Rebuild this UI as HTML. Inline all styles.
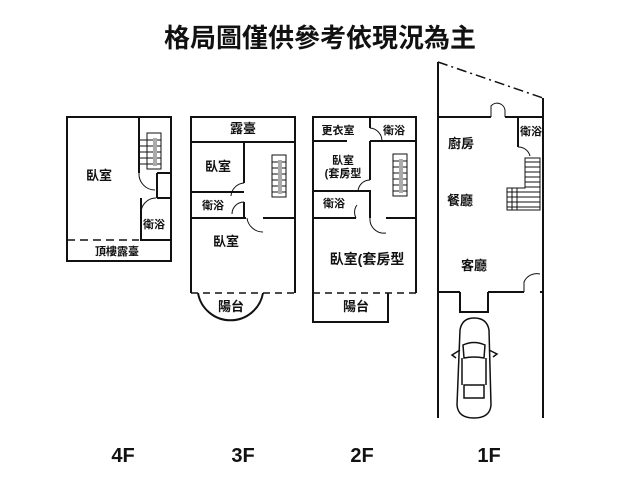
<!DOCTYPE html>
<html><head><meta charset="utf-8"><style>
body{margin:0;background:#fff;width:640px;height:480px;overflow:hidden}
svg{display:block}
text{font-family:"Liberation Sans","Noto Sans CJK TC",sans-serif;font-weight:bold;fill:#111}
</style></head><body>
<svg width="640" height="480" viewBox="0 0 640 480">
<text x="320" y="47" font-size="26" text-anchor="middle">格局圖僅供參考依現況為主</text>
<g stroke="#111" stroke-width="2" fill="none">
<!-- 4F -->
<path d="M67 240 V117 H171 V261 H67 V240"/>
<path d="M67 240 H139" stroke-dasharray="8,5" stroke-width="1.5"/>
<path d="M139 117 V173 M157 173 H171 M141 198 V240 H171 M157 198 H171 M157 173 V198"/>
<path d="M139 173 A 16 16 0 0 0 155 190 M141 213 A15 15 0 0 1 156 198" stroke-width="1"/>
<g stroke-width="1"><path d="M147 133H161V169H147Z M139 140H161M139 146H161M139 152H161M139 158H161M139 164H161"/></g>
<rect x="153" y="138" width="4" height="28" fill="#aaa" stroke="none"/>
<!-- 3F -->
<path d="M191 293 V117 H295 V293"/>
<path d="M191 293 H295" stroke-dasharray="7,5" stroke-width="1.5"/>
<path d="M191 142 H295 M244 142 V183 M191 192 H244 M244 202 V218 M191 218 H246 M263 218 H295"/>
<path d="M244 183 A14 14 0 0 0 231 196 M244 202 A12 12 0 0 0 232 214 M247 218 A16 16 0 0 0 263 232" stroke-width="1"/>
<path d="M198 293 A33 33 0 0 0 263 293"/>
<g stroke-width="1"><path d="M272 155H286V197H272Z M272 162H286M272 168H286M272 174H286M272 180H286M272 186H286M272 192H286"/></g>
<rect x="278" y="160" width="4" height="34" fill="#aaa" stroke="none"/>
<!-- 2F -->
<path d="M313 293 V117 H416 V293"/>
<path d="M313 293 H416" stroke-dasharray="7,5" stroke-width="1.5"/>
<path d="M313 293 V322 H388 V293"/>
<path d="M370 117 V128 M313 141 H347 M370 141 H416 M370 141 V180 M313 191 H370 V218 M313 218 H356 M386 218 H416"/>
<path d="M370 128 A13 13 0 0 1 382 141 M370 180 A12 12 0 0 0 358 192 M356 218 A12 12 0 0 1 357 205 M370 218 A14 14 0 0 0 386 233" stroke-width="1"/>
<g stroke-width="1"><path d="M393 154H407V196H393Z M393 161H407M393 167H407M393 173H407M393 179H407M393 185H407M393 191H407"/></g>
<rect x="399" y="159" width="4" height="34" fill="#aaa" stroke="none"/>
<!-- 1F -->
<path d="M438 62 V418 M543 98 V418"/>
<path d="M438 62 L543 98" stroke-dasharray="10,4,2,4" stroke-width="1.5"/>
<path d="M438 117 H491 M505 117 H543 M518 117 V147 M438 292 H460 M488 292 H524 M543 292 H540"/>
<path d="M491 117 V106 A8 8 0 0 1 505 110 V117 M518 147 A12 12 0 0 1 530 156 M524 292 V282 A14 14 0 0 1 540 274" stroke-width="1"/>
<path d="M460 292 V312 H488 V292"/>
<g stroke-width="1">
<path d="M525 158 H540 V210 H507 V188 H525 Z"/>
<path d="M525 162H540M525 167H540M525 172H540M525 177H540M525 182H540M525 187H540M507 192H540M507 197H540M507 202H540M507 207H540M512 188V210M517 188V210"/>
</g>
<!-- car -->
<g stroke-width="1.5">
<path d="M460 330 Q462 318 474 318 Q487 318 489 330 L491 405 Q490 418 474 418 Q458 418 457 405 Z"/>
<path d="M463 345 Q474 340 485 345 L484 358 Q474 356 464 358 Z"/>
<path d="M464 385 H484 V398 H464 Z M462 358 V385 M486 358 V385"/>
<path d="M460 350 L452 355 L456 358 M489 350 L497 354 L493 357"/>
</g>
</g>
<g font-size="12" text-anchor="middle">
<text x="99" y="180" font-size="13">臥室</text>
<text x="154" y="228" font-size="11">衛浴</text>
<text x="117" y="255" font-size="11">頂樓露臺</text>
<text x="243" y="133" font-size="13">露臺</text>
<text x="218" y="171" font-size="13">臥室</text>
<text x="213" y="209" font-size="11">衛浴</text>
<text x="226" y="246" font-size="13">臥室</text>
<text x="231" y="311" font-size="13">陽台</text>
<text x="338" y="134" font-size="11">更衣室</text>
<text x="394" y="134" font-size="11">衛浴</text>
<text x="343" y="164" font-size="11">臥室</text>
<text x="343" y="177" font-size="11">(套房型</text>
<text x="334" y="207" font-size="11">衛浴</text>
<text x="367" y="264" font-size="14">臥室(套房型</text>
<text x="356" y="311" font-size="13">陽台</text>
<text x="461" y="148" font-size="13">廚房</text>
<text x="531" y="135" font-size="11">衛浴</text>
<text x="460" y="205" font-size="13">餐廳</text>
<text x="474" y="270" font-size="13">客廳</text>
<text x="123" y="462" font-size="20">4F</text>
<text x="243" y="462" font-size="20">3F</text>
<text x="362" y="462" font-size="20">2F</text>
<text x="489" y="462" font-size="20">1F</text>
</g>
</svg>
</body></html>
